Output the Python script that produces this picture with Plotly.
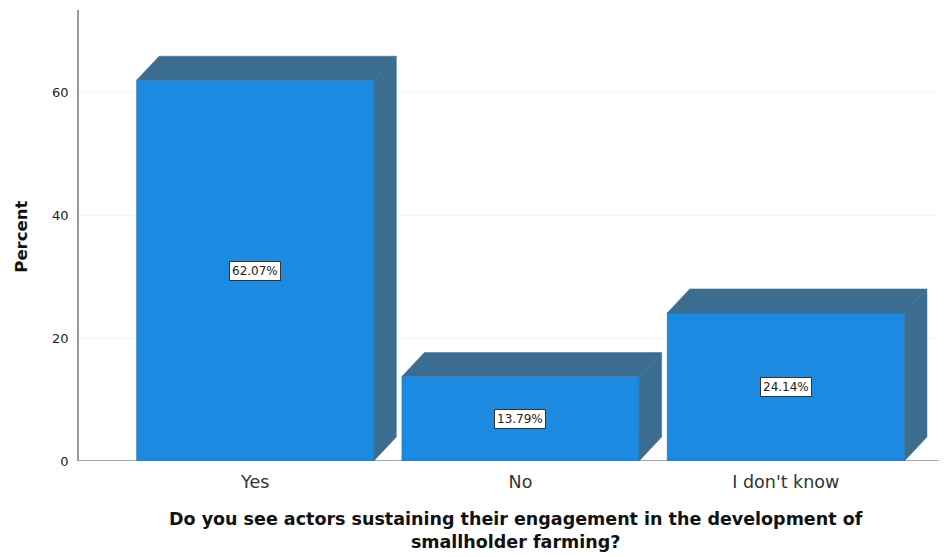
import plotly.graph_objects as go

categories = ["Yes", "No", "I don't know"]
percent_values = [62.07, 13.79, 24.14]
y_tick_values = [0, 20, 40, 60]
y_tick_labels = ["0", "20", "40", "60"]

FRONT = "#1b8ae0"
SIDE = "#3a6d8f"
BAR_W = 0.894
DX = 0.085   # depth offset in x units
DY = 3.9     # depth offset in y units
FONT = "DejaVu Sans, Arial, sans-serif"

fig = go.Figure()

xs = list(range(len(categories)))
half = BAR_W / 2

# 3D side and top faces computed from the data values
for x, v in zip(xs, percent_values):
    x0, x1 = x - half, x + half
    fig.add_trace(go.Scatter(
        x=[x1, x1 + DX, x1 + DX, x1, x1],
        y=[0, DY, v + DY, v, 0],
        fill="toself", fillcolor=SIDE, mode="lines",
        line=dict(color=SIDE, width=0.5), hoverinfo="skip", showlegend=False))
    fig.add_trace(go.Scatter(
        x=[x0, x0 + DX, x1 + DX, x1, x0],
        y=[v, v + DY, v + DY, v, v],
        fill="toself", fillcolor=SIDE, mode="lines",
        line=dict(color=SIDE, width=0.5), hoverinfo="skip", showlegend=False))

fig.add_trace(go.Bar(
    x=xs, y=percent_values, width=BAR_W,
    marker=dict(color=FRONT, line=dict(color="#1f6fa8", width=0.5)),
    showlegend=False, hoverinfo="skip"))

# value labels
for x, v in zip(xs, percent_values):
    fig.add_annotation(
        x=x, y=v / 2, xref="x", yref="y", text=f"{v:.2f}%", showarrow=False,
        font=dict(family=FONT, size=12, color="#222"),
        bgcolor="white", bordercolor="#333", borderwidth=1, borderpad=2)

fig.add_annotation(
    x=-0.066, y=0.497, xref="paper", yref="paper", xanchor="center", yanchor="middle",
    text="<b>Percent</b>",
    textangle=-90, showarrow=False, font=dict(family=FONT, size=16.5, color="#111"))
fig.add_annotation(
    x=0.505, y=-0.155, xref="paper", yref="paper", xanchor="center", yanchor="middle",
    align="center",
    text="<b>Do you see actors sustaining their engagement in the development of"
         "<br>smallholder farming?</b>",
    showarrow=False, font=dict(family=FONT, size=17.5, color="#111"))

fig.update_layout(
    width=947, height=557,
    margin=dict(l=71, r=10, t=2, b=104),
    paper_bgcolor="white", plot_bgcolor="white",
    xaxis=dict(
        range=[-0.664, 2.6], tickvals=xs, ticktext=categories,
        showgrid=False, zeroline=False, showline=False, ticks="",
        ticklabelstandoff=8,
        tickfont=dict(family=FONT, size=17.5, color="#333")),
    yaxis=dict(
        range=[0, 73.5], tickvals=y_tick_values, ticktext=y_tick_labels,
        showgrid=True, gridcolor="#f4f4f4", zeroline=False,
        showline=True, linecolor="#999", linewidth=1.5, ticks="",
        ticklabelstandoff=6,
        tickfont=dict(family=FONT, size=13, color="#222")),
)

# floor line along y=0 across the whole plot width
fig.add_shape(type="line", xref="paper", yref="y", x0=0, x1=1, y0=0, y1=0,
              line=dict(color="#888", width=1.5), layer="below")

fig.write_html("out.html")
